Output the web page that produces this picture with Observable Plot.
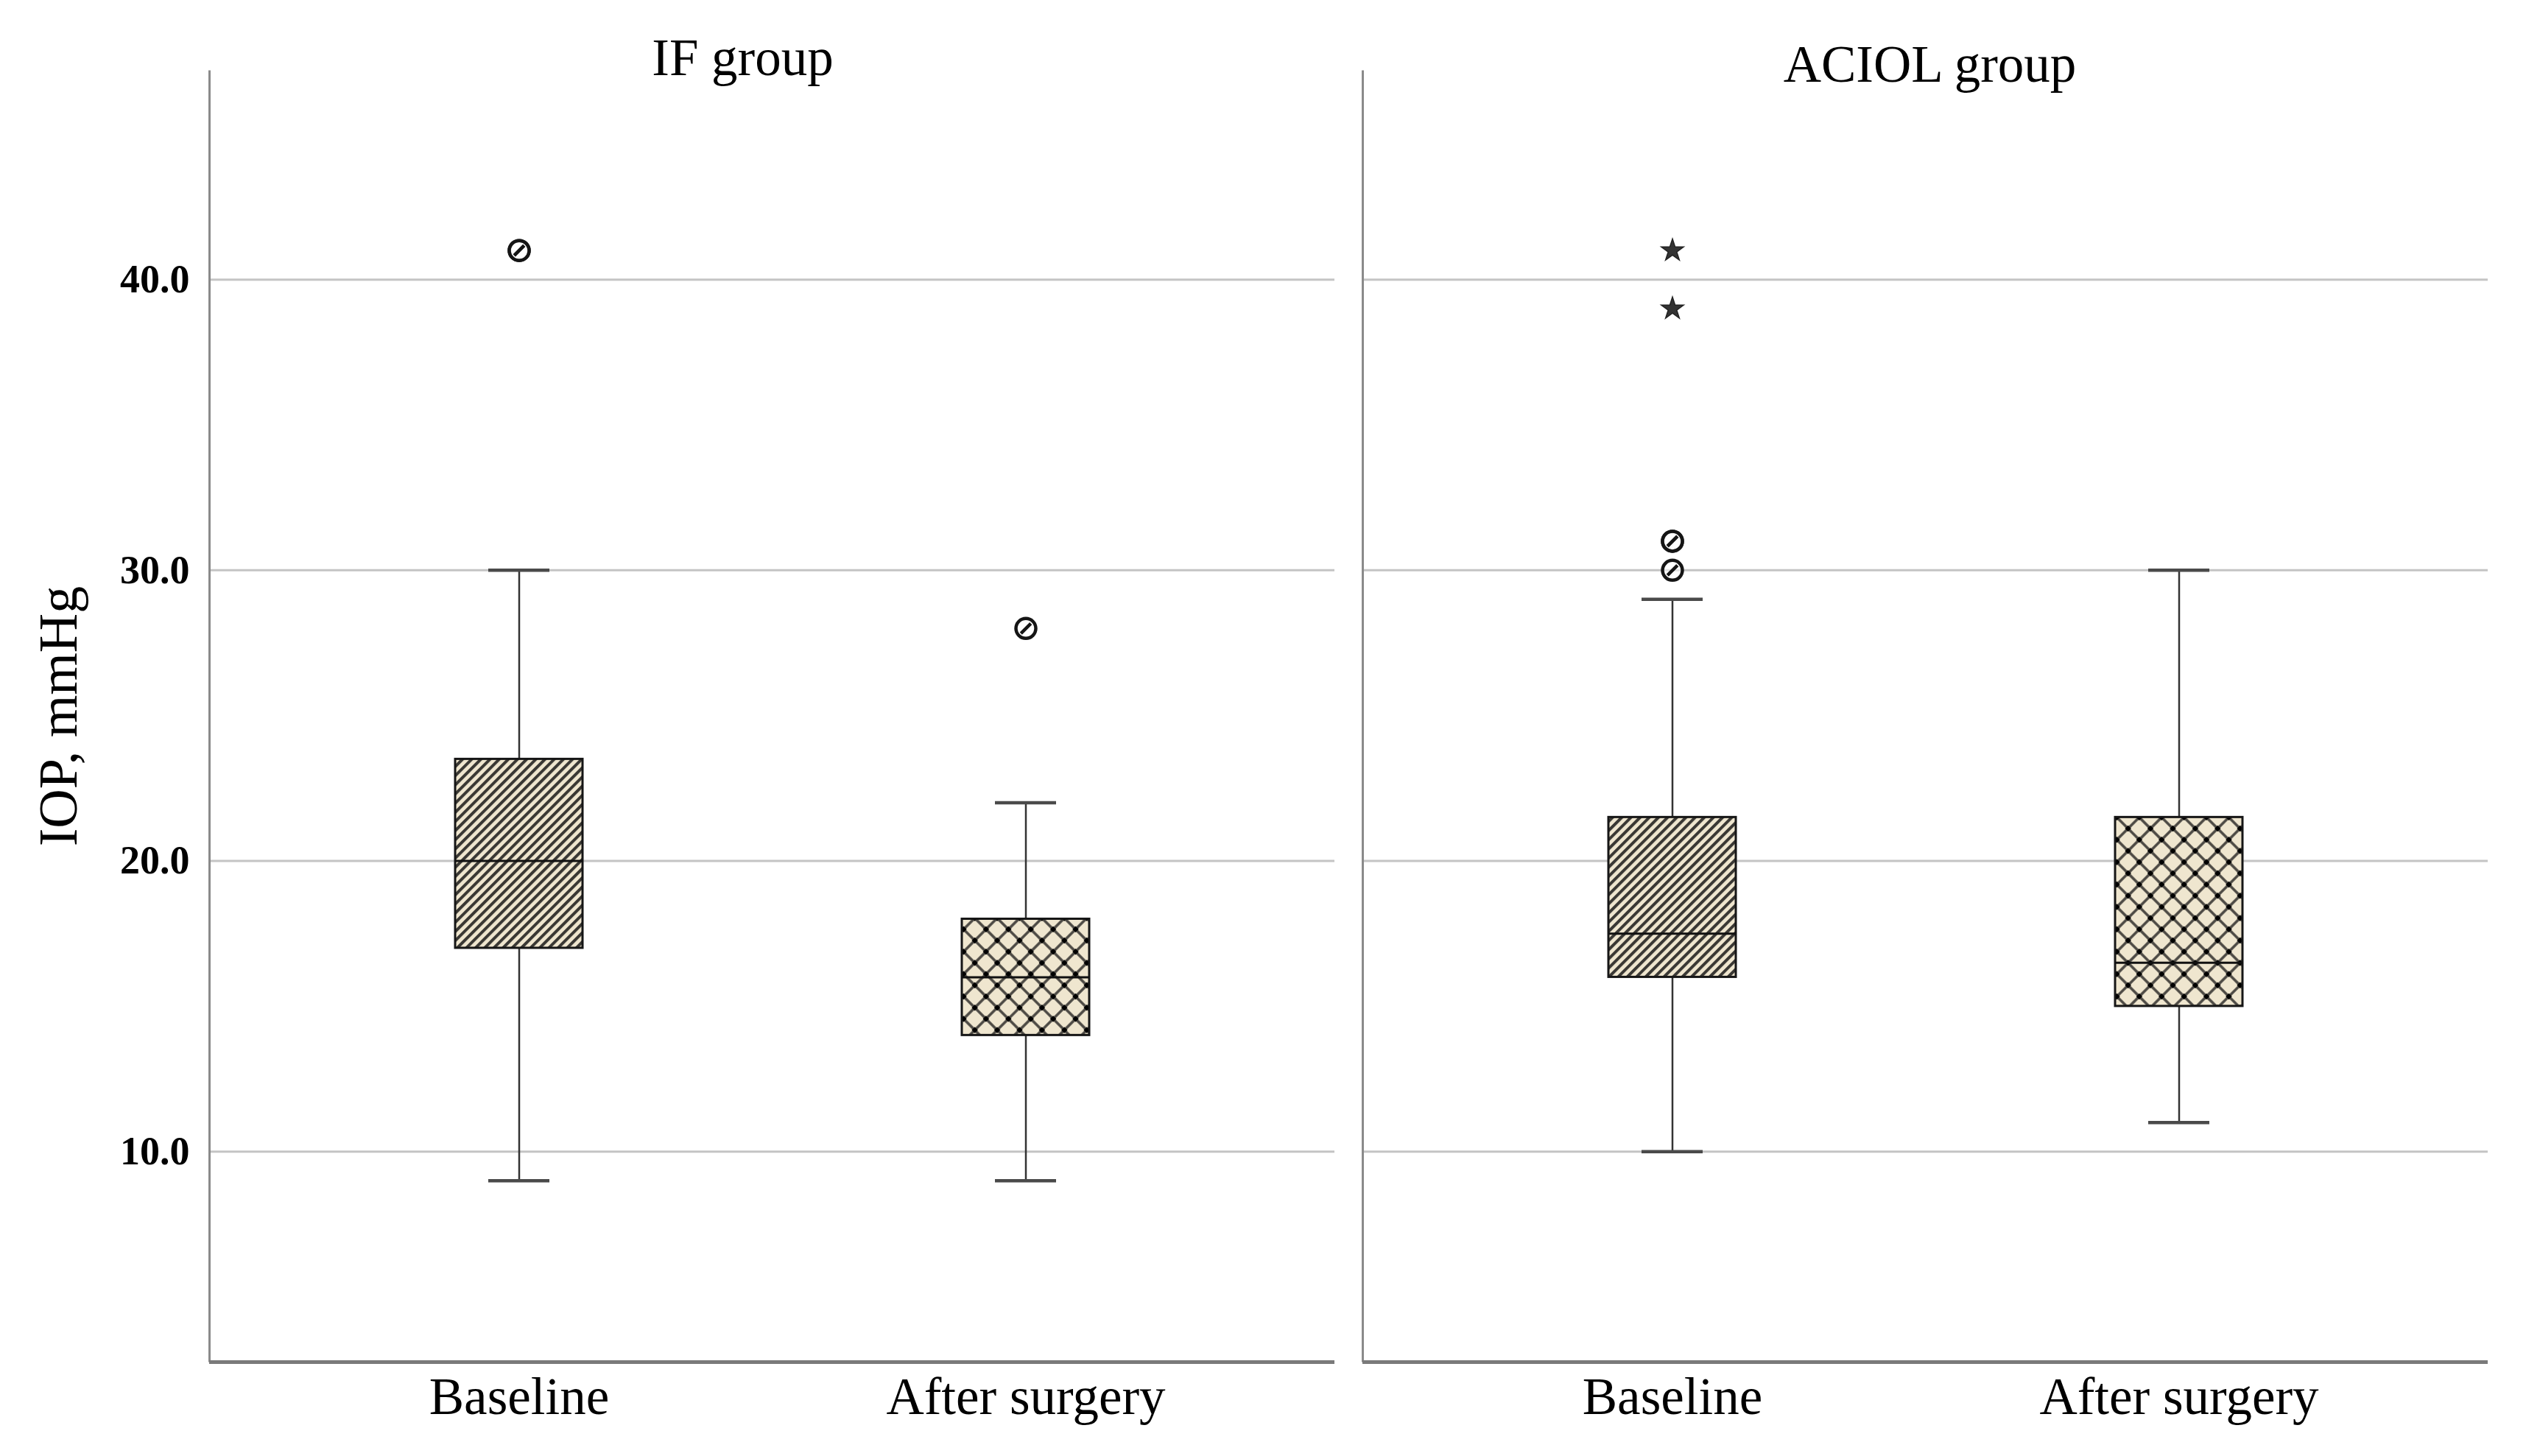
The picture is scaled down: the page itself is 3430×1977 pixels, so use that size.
<!DOCTYPE html>
<html>
<head>
<meta charset="utf-8">
<script src="https://cdn.jsdelivr.net/npm/d3@7"></script>
<script src="https://cdn.jsdelivr.net/npm/@observablehq/plot@0.6"></script>
<style>
  html, body { margin: 0; padding: 0; background: #fff; }
</style>
</head>
<body>
<div id="chart"></div>
<script>
// ---- data ----
const groups = ["IF group", "ACIOL group"];
const conditions = ["Baseline", "After surgery"];
const yTicks = [10, 20, 30, 40];

// box statistics, order: IF-Baseline, IF-After surgery, ACIOL-Baseline, ACIOL-After surgery
const boxGroup = ["IF group", "IF group", "ACIOL group", "ACIOL group"];
const boxCond = ["Baseline", "After surgery", "Baseline", "After surgery"];
const whiskerLow = [9, 9, 10, 11];
const quartile1 = [17, 14, 16, 15];
const medians = [20, 16, 17.5, 16.5];
const quartile3 = [23.5, 18, 21.5, 21.5];
const whiskerHigh = [30, 22, 29, 30];

// outliers (circles)
const outGroup = ["IF group", "IF group", "IF group", "ACIOL group", "ACIOL group", "ACIOL group"];
const outCond = ["Baseline", "Baseline", "After surgery", "Baseline", "Baseline", "Baseline"];
const outValue = [41, 41, 28, 31, 31, 30];

// extreme values (stars)
const extGroup = ["ACIOL group", "ACIOL group"];
const extCond = ["Baseline", "Baseline"];
const extValue = [41, 39];

// ---- tables built from the arrays ----
const boxes = boxGroup.map((g, i) => ({
  group: g, cond: boxCond[i], lo: whiskerLow[i], q1: quartile1[i],
  med: medians[i], q3: quartile3[i], hi: whiskerHigh[i]
}));
const outliers = outGroup.map((g, i) => ({group: g, cond: outCond[i], value: outValue[i]}));
const extremes = extGroup.map((g, i) => ({group: g, cond: extCond[i], value: extValue[i]}));

// custom symbol: circle with a slash
const circleSlash = {
  draw(context, size) {
    const r = Math.sqrt(size / Math.PI);
    context.moveTo(r, 0);
    context.arc(0, 0, r, 0, 2 * Math.PI);
    const s = r * 0.5;
    context.moveTo(-s, s);
    context.lineTo(s, -s);
  }
};

const fontLabel = 71;
const capInset = 45;

const chart = Plot.plot({
  width: 3430,
  height: 1977,
  marginTop: 95,
  marginBottom: 128,
  marginLeft: 283,
  marginRight: 51,
  style: {fontFamily: "'Liberation Serif', serif", background: "#fff", color: "#000"},
  fx: {domain: groups, paddingInner: 0.0242, paddingOuter: 0, axis: null, label: null},
  x: {domain: conditions, paddingInner: 0.7492, paddingOuter: 0.4839, label: null},
  y: {domain: [2.76, 47.2], label: null},
  marks: [
    Plot.gridY({ticks: yTicks, stroke: "#c4c4c4", strokeWidth: 3, strokeOpacity: 1}),
    Plot.frame({stroke: "#8a8a8a", strokeWidth: 3}),
    Plot.ruleY([2.76], {stroke: "#7a7a7a", strokeWidth: 5}),
    // whiskers
    Plot.ruleX(boxes, {fx: "group", x: "cond", y1: "q3", y2: "hi", stroke: "#333", strokeWidth: 2.5}),
    Plot.ruleX(boxes, {fx: "group", x: "cond", y1: "lo", y2: "q1", stroke: "#333", strokeWidth: 2.5}),
    // boxes
    Plot.barY(boxes.filter(d => d.cond === "Baseline"), {fx: "group", x: "cond", y1: "q1", y2: "q3",
      fill: "url(#hatch)", stroke: "#161616", strokeWidth: 3}),
    Plot.barY(boxes.filter(d => d.cond === "After surgery"), {fx: "group", x: "cond", y1: "q1", y2: "q3",
      fill: "url(#crosshatch)", stroke: "#161616", strokeWidth: 3}),
    // medians
    Plot.tickY(boxes, {fx: "group", x: "cond", y: "med", stroke: "#111", strokeWidth: 3}),
    // whisker caps
    Plot.tickY(boxes, {fx: "group", x: "cond", y: "hi", insetLeft: capInset, insetRight: capInset, stroke: "#4a4a4a", strokeWidth: 4.5}),
    Plot.tickY(boxes, {fx: "group", x: "cond", y: "lo", insetLeft: capInset, insetRight: capInset, stroke: "#4a4a4a", strokeWidth: 4.5}),
    // outliers
    Plot.dot(outliers, {fx: "group", x: "cond", y: "value", symbol: circleSlash, r: 13.5,
      stroke: "#151515", strokeWidth: 4.5, fill: "#fff", fillOpacity: 0.5}),
    // extremes
    Plot.dot(extremes, {fx: "group", x: "cond", y: "value", symbol: "star", r: 9.5,
      stroke: "#222", strokeWidth: 1.5, fill: "#333"}),
    // panel titles
    Plot.text(["IF group"], {fx: d => d, text: d => d, frameAnchor: "top", dx: -40, dy: -44, fontSize: fontLabel}),
    Plot.text(["ACIOL group"], {fx: d => d, text: d => d, frameAnchor: "top", dx: 6, dy: -35, fontSize: fontLabel}),
    // y label
    Plot.text(["IOP, mmHg"], {fx: () => "IF group", text: d => d, frameAnchor: "left", textAnchor: "middle",
      rotate: -90, dx: -204, fontSize: 74}),
    // axes
    Plot.axisX({tickSize: 0, tickPadding: 20, fontSize: fontLabel, label: null}),
    Plot.axisY({ticks: yTicks, tickFormat: d3.format(".1f"), tickSize: 0, tickPadding: 27,
      fontSize: 54, fontWeight: "bold", label: null})
  ]
});

// pattern definitions
const svg = d3.select(chart.tagName.toLowerCase() === "svg" ? chart : chart.querySelector("svg"));
const defs = svg.insert("defs", ":first-child");
const cream = "#efe6cf";

const hatch = defs.append("pattern").attr("id", "hatch").attr("patternUnits", "userSpaceOnUse")
  .attr("width", 8.8).attr("height", 8.8).attr("patternTransform", "rotate(45)");
hatch.append("rect").attr("width", 8.8).attr("height", 8.8).attr("fill", cream);
hatch.append("rect").attr("x", 0).attr("width", 4).attr("height", 8.8).attr("fill", "#3a3834");

const cs = 21.5;
const cross = defs.append("pattern").attr("id", "crosshatch").attr("patternUnits", "userSpaceOnUse")
  .attr("width", cs).attr("height", cs).attr("patternTransform", "rotate(45)");
cross.append("rect").attr("width", cs).attr("height", cs).attr("fill", cream);
cross.append("rect").attr("x", cs / 2 - 1.75).attr("y", 0).attr("width", 3.5).attr("height", cs).attr("fill", "#4a4742");
cross.append("rect").attr("x", 0).attr("y", cs / 2 - 1.75).attr("width", cs).attr("height", 3.5).attr("fill", "#4a4742");
cross.append("rect").attr("x", cs / 2 - 3).attr("y", cs / 2 - 3).attr("width", 6).attr("height", 6).attr("fill", "#000");

// keep only the left edge of each facet frame
svg.selectAll('[aria-label="frame"] rect').each(function() {
  const w = +this.getAttribute("width"), h = +this.getAttribute("height");
  if (w && h) this.setAttribute("stroke-dasharray", `0 ${2 * w + h} ${h}`);
});

document.getElementById("chart").append(chart);
</script>
</body>
</html>
